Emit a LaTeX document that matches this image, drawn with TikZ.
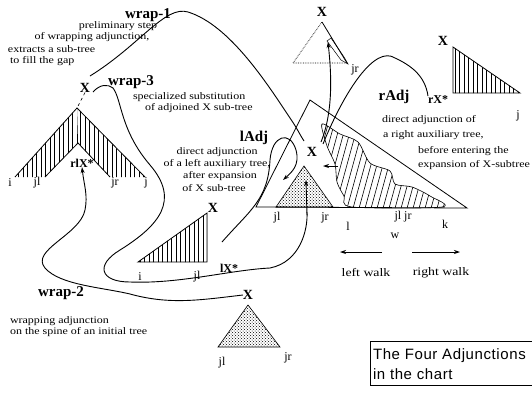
\documentclass[tikz,border=0pt]{standalone}
\usepackage{fontspec}
\setmainfont{Liberation Serif}
\newfontfamily\strserif[FakeStretch=1.2]{Liberation Serif}
\newfontfamily\boxsans[LetterSpace=4]{Liberation Sans}
\usetikzlibrary{patterns,arrows.meta}
\newcommand\smfont{\fontsize{10}{11}\selectfont\strserif}
\newcommand\ttlfont{\fontsize{15}{15}\selectfont\bfseries}
\newcommand\labfont{\fontsize{14}{14}\selectfont\bfseries}
\newcommand\idxfont{\fontsize{12}{12}\selectfont}
\begin{document}
\begin{tikzpicture}[x=1pt,y=-1pt,line width=0.8pt,
  every node/.style={inner sep=0pt,outer sep=0pt},
  txt/.style={font=\smfont},
  ttl/.style={font=\ttlfont},
  lab/.style={font=\labfont},
  idx/.style={font=\idxfont},
  curve/.style={line width=0.9pt},
  hatch/.style={line width=0.6pt},
  tip/.style={-{Stealth[length=6pt,width=4pt]}}]
\useasboundingbox (0,0) rectangle (532,394);

% ---------------- texts: wrap-1 / wrap-3
\node[ttl] (w1) at (148,15) {wrap-1};
\node[txt] (w1a) at (118,26) {preliminary step};
\node[txt] (w1b) at (92,37) {of wrapping adjunction,};
\node[txt,anchor=west] (w1c) at (8,49) {extracts a sub-tree};
\node[txt,anchor=west] (w1d) at (10,61) {to fill the gap};
\node[ttl] (w3) at (131,82) {wrap-3};
\node[txt,anchor=west] (w3a) at (133,97) {specialized substitution};
\node[txt,anchor=west] (w3b) at (145,108) {of adjoined X sub-tree};

% ---------------- wrapping tree (top left)
\node[lab] (Xw) at (85,88) {X};
\begin{scope}
\clip (15,177)--(77,108)--(78,143)--(45,177)--cycle;
\foreach \x in {14,18.5,...,80} \draw[hatch] (\x,100)--(\x,180);
\end{scope}
\begin{scope}
\clip (145,177)--(77,108)--(78,143)--(110,177)--cycle;
\foreach \x in {76,80.5,...,146} \draw[hatch] (\x,100)--(\x,180);
\end{scope}
\draw (15,177)--(77,108)--(145,177) (45,177)--(78,143)--(110,177);
\draw[dashed,line width=0.6pt] (Xw.south) -- (77,108);
\node[idx] (wi) at (10,183) {i};
\node[idx] (wjl) at (37,183) {jl};
\node[idx] (wjr) at (115,183) {jr};
\node[idx] (wj) at (146,183) {j};
\node[lab,font=\fontsize{12}{12}\selectfont\bfseries] (rlx) at (82,163) {rlX*};

% ---------------- wrap-2 (bottom)
\node[ttl] (w2) at (61,293) {wrap-2};
\node[txt,anchor=west] (w2a) at (10,321) {wrapping adjunction};
\node[txt,anchor=west] (w2b) at (10,332) {on the spine of an initial tree};
\node[lab] (Xb) at (248,295) {X};
\draw[pattern=crosshatch dots,line width=0.6pt] (248,305)--(218,347)--(280,347)--cycle;
\node[idx] (bjl) at (222,363) {jl};
\node[idx] (bjr) at (288,358) {jr};

% ---------------- left auxiliary tree
\node[lab] (Xl) at (213,208) {X};
\begin{scope}
\clip (138,262)--(207,213)--(207,262)--cycle;
\foreach \x in {140,144.5,...,208} \draw[hatch] (\x,205)--(\x,265);
\end{scope}
\draw (138,262)--(207,213)--(207,262)--cycle;
\node[idx] (li) at (140,277) {i};
\node[idx] (ljl) at (197,277) {jl};
\node[lab,font=\fontsize{12}{12}\selectfont\bfseries] (lx) at (229,268) {lX*};

% ---------------- lAdj text
\node[ttl] (la) at (254,138) {lAdj};
\node[txt] (la1) at (217,152) {direct adjunction};
\node[txt] (la2) at (217,164) {of a left auxiliary tree,};
\node[txt] (la3) at (220,176) {after expansion};
\node[txt] (la4) at (214,188) {of X sub-tree};

% ---------------- big tree
\begin{scope}
\clip plot[smooth cycle] coordinates {(322,124) (340,134) (358,142) (370,163) (390,171) (395,184) (412,187) (430,196) (442,207) (352,207) (344,196) (337,182) (335,164) (327,146)};
\foreach \x in {280,286,...,470} \draw[hatch] (\x,212)--(\x+28,110);
\end{scope}
\draw[line width=0.6pt] plot[smooth cycle] coordinates {(322,124) (340,134) (358,142) (370,163) (390,171) (395,184) (412,187) (430,196) (442,207) (352,207) (344,196) (337,182) (335,164) (327,146)};
\draw (310,100) -- (256,207) -- (467,208) -- cycle;
\node[lab] (Xc) at (312,152) {X};
\draw[pattern=crosshatch dots,line width=0.6pt] (304,166)--(276,207)--(333,207)--cycle;
\node[idx] (cjl) at (277,218) {jl};
\node[idx] (cjr) at (325,218) {jr};
\node[idx] (cl) at (348,226) {l};
\node[idx] (cj2) at (403,217) {jl jr};
\node[idx] (ck) at (445,224) {k};
\node[idx] (cw) at (395,236) {w};
\coordinate (lw1) at (382,252); \coordinate (lw2) at (340,252);
\coordinate (rw1) at (412,252); \coordinate (rw2) at (460,252);
\draw[tip] (lw1) -- (lw2);
\draw[tip] (rw1) -- (rw2);
\node[font=\fontsize{11.5}{11.5}\selectfont\strserif] (lwt) at (366,273) {left walk};
\node[font=\fontsize{11.5}{11.5}\selectfont\strserif] (rwt) at (441,273) {right walk};

% ---------------- rAdj
\node[ttl] (ra) at (394,97) {rAdj};
\node[lab,font=\fontsize{12}{12}\selectfont\bfseries] (rx) at (438,100) {rX*};
\node[txt,anchor=west] (ra1) at (382,120) {direct adjunction of};
\node[txt,anchor=west] (ra2) at (383,135) {a right auxiliary tree,};
\node[txt,anchor=west] (ra3) at (418,151) {before entering the};
\node[txt,anchor=west] (ra4) at (418,165) {expansion of X-subtree};
\node[lab] (Xr) at (443,41) {X};
\begin{scope}
\clip (453,47)--(520,93)--(453,93)--cycle;
\foreach \x in {455,459.5,...,521} \draw[hatch] (\x,40)--(\x,95);
\end{scope}
\draw (453,47)--(520,93)--(453,93)--cycle;
\node[idx] (rj) at (518,116) {j};

% ---------------- top dotted tree
\node[lab] (Xt) at (322,12) {X};
\draw[densely dotted,line width=0.7pt] (293,63) -- (322,22) (293,63) -- (347,63);
\draw (322,22) -- (347,63);
\draw[line width=0.5pt] (331,38) -- (344,57) -- (348,64) -- (341,60) -- (327,41) -- cycle;
\node[idx] (tjr) at (355,70) {jr};

% ---------------- legend box
\draw[line width=1pt] (370,341) rectangle (540,385);
\node[anchor=west,font=\fontsize{15}{15}\selectfont\boxsans] (bx1) at (373,356) {The Four Adjunctions};
\node[anchor=west,font=\fontsize{15}{15}\selectfont\boxsans] (bx2) at (373,374) {in the chart};

% ---------------- connectors
\coordinate (c1s) at (90,76);
\coordinate (c1e) at (304,141);
\draw[curve] (c1s) .. controls (140,45) and (165,5) .. (188,12) .. controls (230,25) and (268,85) .. (290,118) .. controls (297,128) and (300,135) .. (c1e);
\draw[curve] (93,92) .. controls (100,84) and (108,84) .. (113,88) .. controls (122,100) and (120,130) .. (150,165) .. controls (180,200) and (160,225) .. (120,250) .. controls (95,265) and (100,282) .. (130,282) .. controls (180,284) and (230,270) .. (270,268) .. controls (300,262) and (308,230) .. (307,212);
\draw[curve,tip] (307,215) -- (306,180);
\draw[curve,tip] (Xb.west) .. controls (200,300) and (170,305) .. (130,294) .. controls (100,287) and (60,285) .. (45,268) .. controls (30,250) and (80,235) .. (85,210) .. controls (88,195) and (84,185) .. (rlx.south);
\draw[curve,tip] (222,242) .. controls (250,210) and (268,200) .. (270,160) .. controls (272,135) and (290,130) .. (296,150) .. controls (300,165) and (292,172) .. (283,180);
\draw[curve,tip] (321,142) .. controls (334,110) and (331,70) .. (328,42);
\draw[curve] (323,144) .. controls (345,90) and (375,45) .. (395,58) .. controls (410,65) and (425,75) .. (rx.north west);
\draw[curve,tip] (338,166) -- (323,166);
\end{tikzpicture}
\end{document}
